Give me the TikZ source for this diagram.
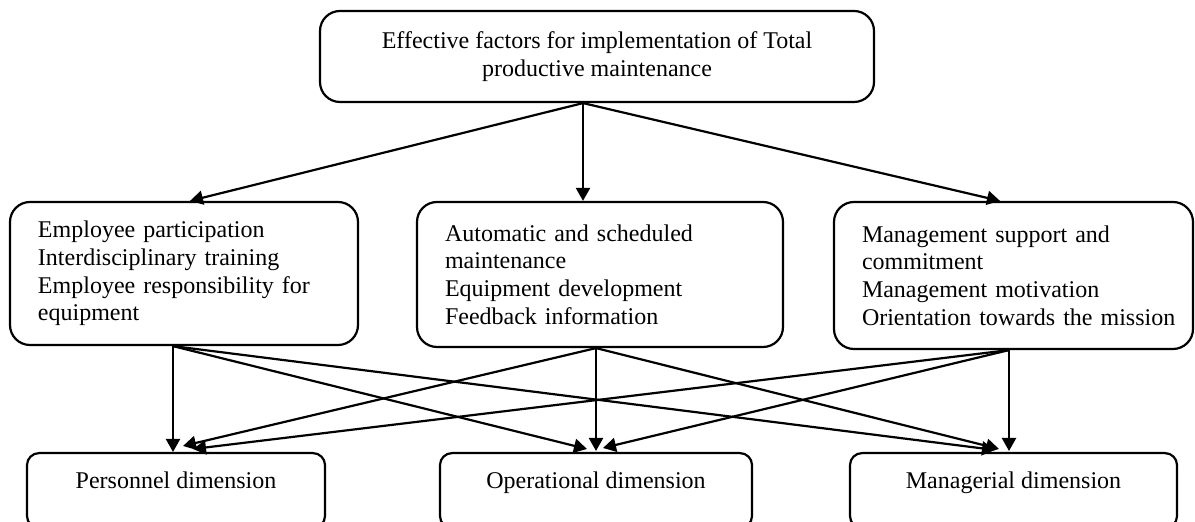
\documentclass[tikz,border=0pt]{standalone}
\usepackage{fontspec}
\setmainfont{Liberation Serif}
\usetikzlibrary{arrows.meta}
\begin{document}
\begin{tikzpicture}[x=0.5pt,y=-0.5pt,
  txt/.style={font=\fontsize{12}{13.8}\selectfont},
  box/.style={draw,line width=1.1pt,rounded corners=10pt,txt},
  factor/.style={box,align=left,inner xsep=14pt,inner ysep=0pt},
  dim/.style={draw,line width=1.1pt,rounded corners=6pt,anchor=north,txt,
    inner xsep=0pt,inner ysep=0pt,text height=17.5pt,text depth=20pt},
  link/.style={line width=1.1pt,-{Triangle[length=6.5pt,width=7pt]}}]

\fill[white] (0,0) rectangle (1195,522);
\useasboundingbox (0,0) rectangle (1195,522);

% root
\node[box,align=center,minimum width=277pt,minimum height=45.5pt,inner sep=0pt]
  (top) at (597,56.5)
  {Effective factors for implementation of Total\\productive maintenance};

% groups of factors
\node[factor,text width=146pt,minimum height=71.5pt] (lb) at (184,273.5)
  {Employee participation\\Interdisciplinary training\\Employee responsibility for\\equipment};
\node[factor,text width=155pt,minimum height=72.5pt] (mb) at (600,274.5)
  {Automatic and scheduled\\maintenance\\Equipment development\\Feedback information};
\node[factor,text width=151.5pt,minimum height=73.5pt] (rb) at (1013.5,275.5)
  {Management support and\\commitment\\Management motivation\\\mbox{Orientation towards the mission}};

% dimensions
\node[dim,minimum width=149pt] (pd) at (176,452) {Personnel dimension};
\node[dim,minimum width=156pt] (od) at (596,452) {Operational dimension};
\node[dim,minimum width=163.5pt] (md) at (1013.5,452) {Managerial dimension};

% root to groups
\draw[link] ([xshift=-7pt]top.south) -- ([xshift=3pt]lb.north);
\draw[link] ([xshift=-7pt]top.south) -- ([xshift=-8.5pt]mb.north);
\draw[link] ([xshift=-7pt]top.south) -- ([xshift=-6.75pt]rb.north);

% groups to dimensions
\draw[link] ([xshift=-5.5pt]lb.south) -- ([xshift=-1.5pt]pd.north);
\draw[link] ([xshift=-5.5pt]lb.south) -- ([xshift=-4.5pt,yshift=1.5pt]od.north);
\draw[link] ([xshift=-5.5pt]lb.south) -- ([xshift=-9.25pt,yshift=1pt]md.north);

\draw[link] ([xshift=-2pt]mb.south) -- ([xshift=3.5pt,yshift=3pt]pd.north);
\draw[link] ([xshift=-2pt]mb.south) -- ([yshift=0.5pt]od.north);
\draw[link] ([xshift=-2pt]mb.south) -- ([xshift=-7.25pt,yshift=1.5pt]md.north);

\draw[link] ([xshift=-2.25pt]rb.south) -- ([xshift=8.5pt,yshift=1.5pt]pd.north);
\draw[link] ([xshift=-2.25pt]rb.south) -- ([xshift=3.5pt,yshift=2pt]od.north);
\draw[link] ([xshift=-2.25pt]rb.south) -- ([xshift=-2.25pt,yshift=0.5pt]md.north);
\end{tikzpicture}
\end{document}
